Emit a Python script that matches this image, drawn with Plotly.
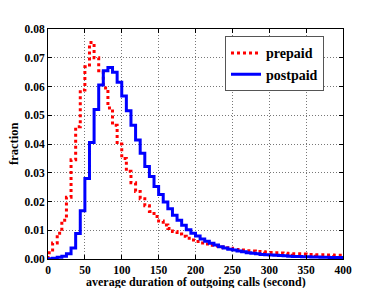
import plotly.graph_objects as go

# bin edges: 64 bins of 6.25 s from 0 to 400
bin_width = 6.25
n_bins = 64

prepaid = [
    0.0022, 0.0056, 0.0090, 0.0135, 0.0215, 0.0345, 0.0460, 0.0588,
    0.0669, 0.0753, 0.0700, 0.0655, 0.0595, 0.0525, 0.0465, 0.0400,
    0.0350, 0.0305, 0.0265, 0.0235, 0.0210, 0.0185, 0.0165, 0.0148,
    0.0132, 0.0118, 0.0106, 0.0096, 0.0087, 0.0079, 0.0072, 0.0066,
    0.0061, 0.0056, 0.0052, 0.0048, 0.0045, 0.0042, 0.0039, 0.0037,
    0.0035, 0.0033, 0.0031, 0.0029, 0.0028, 0.0026, 0.0025, 0.0024,
    0.0023, 0.0022, 0.0021, 0.0020, 0.0019, 0.0018, 0.0018, 0.0017,
    0.0016, 0.0016, 0.0015, 0.0015, 0.0014, 0.0014, 0.0013, 0.0013,
]

postpaid = [
    0.0001, 0.0003, 0.0006, 0.0010, 0.0018, 0.0038, 0.0089, 0.0168,
    0.0280, 0.0405, 0.0520, 0.0605, 0.0655, 0.0666, 0.0650, 0.0615,
    0.0567, 0.0516, 0.0465, 0.0414, 0.0368, 0.0322, 0.0287, 0.0252,
    0.0224, 0.0198, 0.0175, 0.0152, 0.0135, 0.0117, 0.0102, 0.0090,
    0.0080, 0.0070, 0.0062, 0.0055, 0.0049, 0.0043, 0.0038, 0.0034,
    0.0031, 0.0028, 0.0025, 0.0022, 0.0020, 0.0018, 0.0016, 0.0015,
    0.0014, 0.0013, 0.0012, 0.0011, 0.0010, 0.0009, 0.0009, 0.0008,
    0.0008, 0.0007, 0.0007, 0.0006, 0.0006, 0.0005, 0.0005, 0.0005,
]

x_ticks = [0, 50, 100, 150, 200, 250, 300, 350, 400]
y_ticks = [0.00, 0.01, 0.02, 0.03, 0.04, 0.05, 0.06, 0.07, 0.08]
x_title = "average duration of outgoing calls (second)"
y_title = "fraction"


def step_xy(vals):
    edges = [i * bin_width for i in range(n_bins + 1)]
    xs = [edges[0]] + edges[:-1] + [edges[-1], edges[-1]]
    ys = [0] + list(vals) + [vals[-1], 0]
    return xs, ys


FONT = "Liberation Serif"

fig = go.Figure()
xs, ys = step_xy(prepaid)
fig.add_trace(go.Scatter(x=xs, y=ys, mode="lines", name="<b>prepaid</b>",
                         line=dict(color="#ff0000", width=3, dash="3px,3px", shape="hv")))
xs, ys = step_xy(postpaid)
fig.add_trace(go.Scatter(x=xs, y=ys, mode="lines", name="<b>postpaid</b>",
                         line=dict(color="#0000ff", width=3, shape="hv")))

axis_common = dict(
    showline=True, linecolor="black", linewidth=1, mirror="allticks",
    ticks="inside", ticklen=4, tickcolor="black",
    showgrid=True, gridcolor="#777777", griddash="1px,2px", gridwidth=1,
    zeroline=False, automargin=False,
    tickfont=dict(family=FONT, size=11.5, color="black"),
)

# page has an 8px body margin: figure is drawn at (8, 8)
fig.update_layout(
    width=374, height=280,
    margin=dict(l=40, r=38.5, t=20.7, b=29.3),
    paper_bgcolor="white", plot_bgcolor="white",
    font=dict(family=FONT, color="black"),
    showlegend=True,
    legend=dict(x=0.6, y=0.968, xanchor="left", yanchor="top",
                bgcolor="white", bordercolor="#555555", borderwidth=1,
                font=dict(family=FONT, size=14, color="black"),
                tracegroupgap=0),
    xaxis=dict(range=[0, 400], tickvals=x_ticks,
               ticktext=[f"<b>{v}</b>" for v in x_ticks],
               **axis_common),
    yaxis=dict(range=[0, 0.08], tickvals=y_ticks,
               ticktext=[f"<b>{v:.2f}</b>" for v in y_ticks],
               **axis_common),
    annotations=[
        dict(text=f"<b>{x_title}</b>", xref="paper", yref="paper", x=0.5, y=0,
             xanchor="center", yanchor="top", yshift=-14.5, showarrow=False,
             borderpad=0, font=dict(family=FONT, size=12, color="black")),
        dict(text=f"<b>{y_title}</b>", xref="paper", yref="paper", x=0, y=0.5,
             xanchor="center", yanchor="middle", xshift=-34, textangle=-90,
             showarrow=False, font=dict(family=FONT, size=12.5, color="black")),
    ],
)

fig.write_html("out.html")
